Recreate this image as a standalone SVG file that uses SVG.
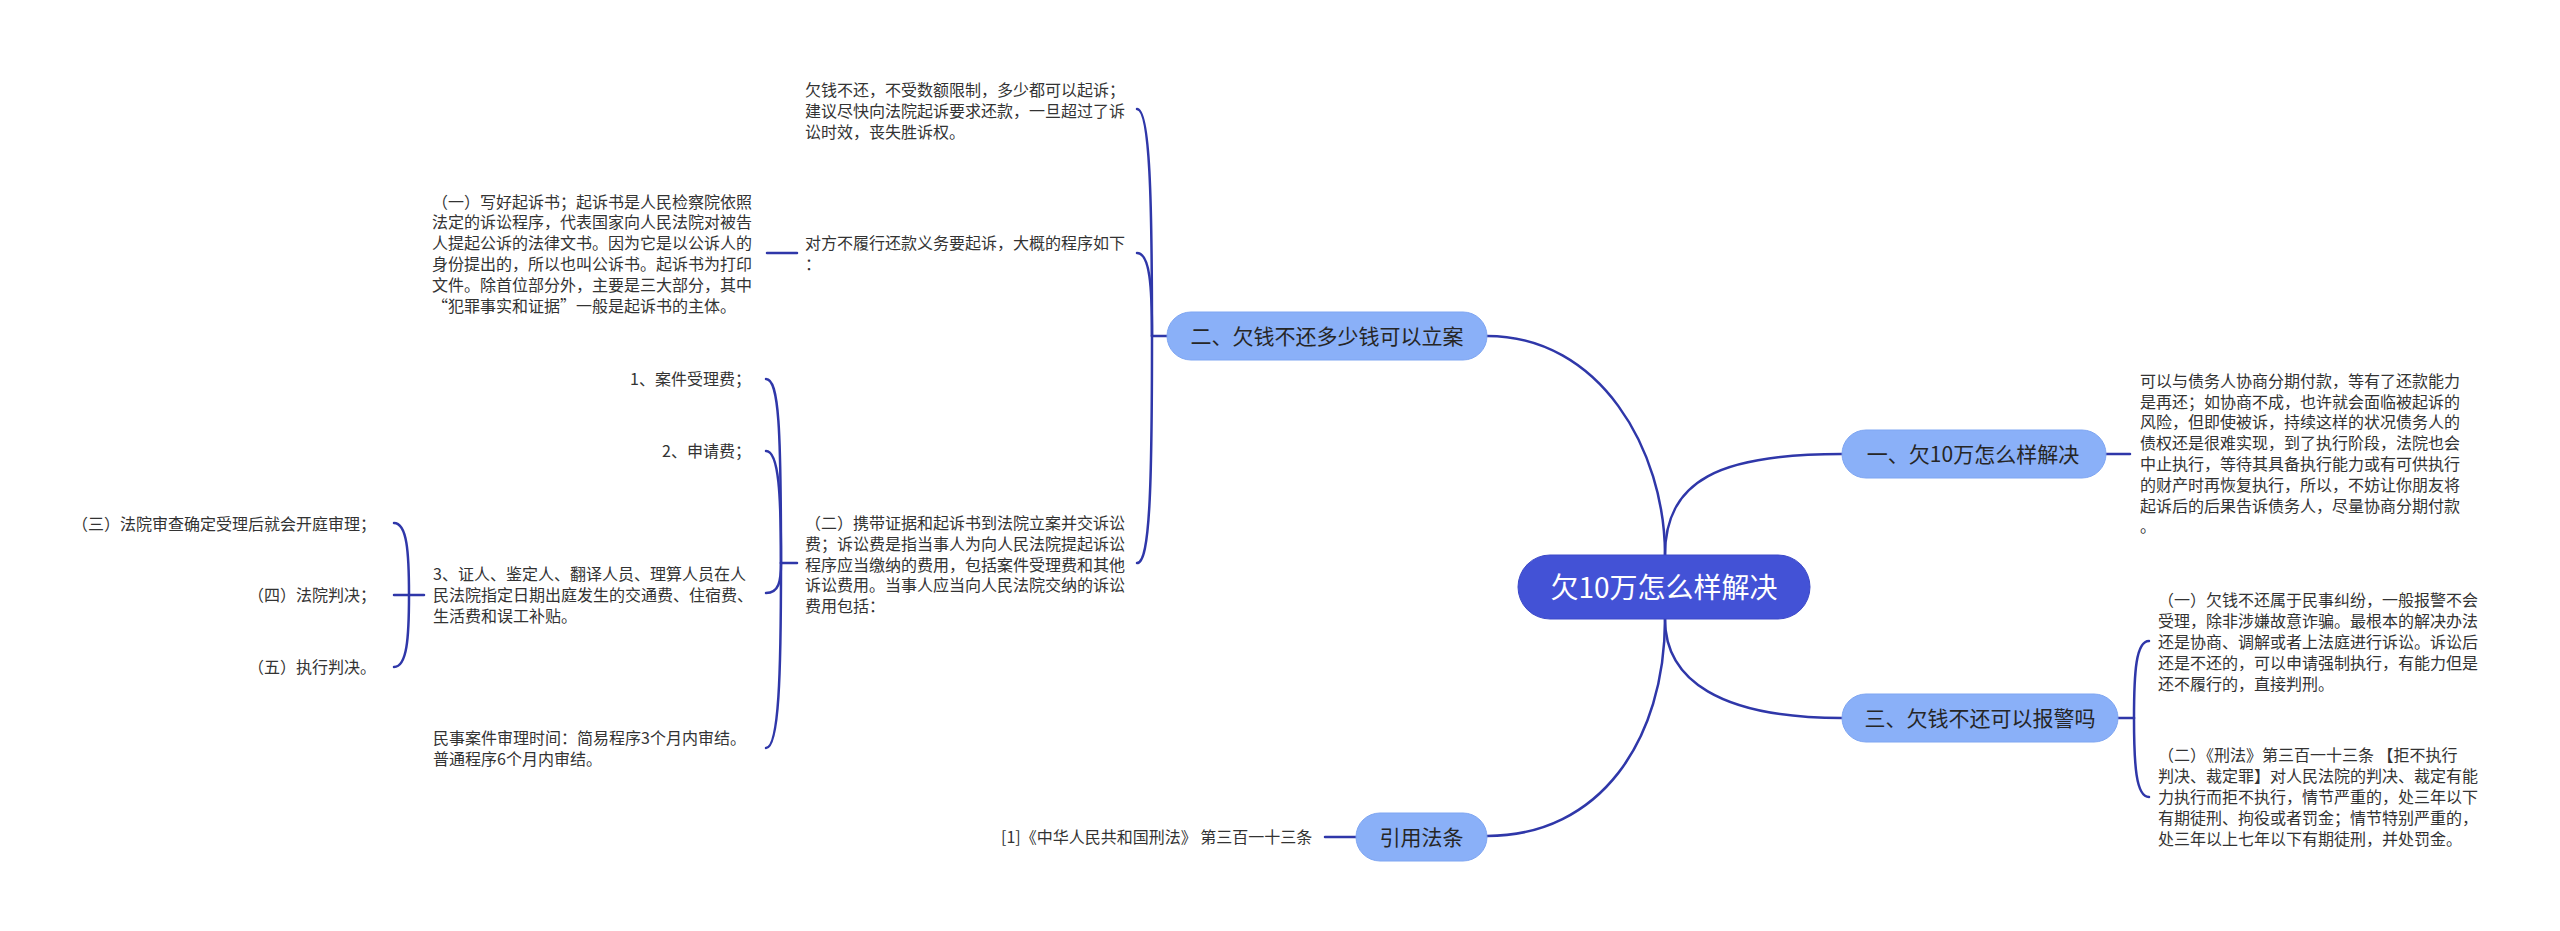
<svg xmlns="http://www.w3.org/2000/svg" width="2560" height="931" viewBox="0 0 2560 931">
<style>
.bg{fill:#ffffff}
.conn path{fill:none;stroke:#2f37a9;stroke-width:2.5;stroke-linecap:round}
.leaf text{font-family:"Noto Sans CJK SC","Liberation Sans",sans-serif;font-size:16px;fill:#333333}
.leaf text.r{text-anchor:end}
.branch rect{fill:#8ab0f8;stroke:#7fa6f2;stroke-width:1}
.branch text{font-family:"Noto Sans CJK SC","Liberation Sans",sans-serif;font-size:21px;fill:#262626;text-anchor:middle}
.root rect{fill:#4352d6;stroke:#3c49c8;stroke-width:1}
.root text{font-family:"Noto Sans CJK SC","Liberation Sans",sans-serif;font-size:28px;fill:#ffffff;text-anchor:middle}
</style>
<rect class="bg" x="0" y="0" width="2560" height="931"/>
<g class="conn" id="connectors">
<path d="M1665,555 C1665,450 1600,336 1487,336"/>
<path d="M1665,555 C1665,480 1720,454 1842,454"/>
<path d="M1665,619 C1665,680 1720,718 1842,718"/>
<path d="M1665,619 C1665,740 1600,836 1487,836"/>
<path d="M1167,336 L1152,336"/>
<path d="M1152,336 C1152,200 1150,109 1137,109"/>
<path d="M1152,336 C1152,287 1150,253 1137,253"/>
<path d="M1152,336 C1152,486 1150,563 1137,563"/>
<path d="M797,253 L767,253"/>
<path d="M797,563 L781,563"/>
<path d="M781,563 C781,429 779,379 766,379"/>
<path d="M781,563 C781,496 779,451 766,451"/>
<path d="M781,563 C781,581 779,593 766,593"/>
<path d="M781,563 C781,674 779,748 766,748"/>
<path d="M424,595 L409,595"/>
<path d="M409,595 C409,552 407,523 394,523"/>
<path d="M409,595 L394,595"/>
<path d="M409,595 C409,638 407,667 394,667"/>
<path d="M2118,718 L2134,718"/>
<path d="M2134,718 C2134,672 2136,641 2149,641"/>
<path d="M2134,718 C2134,765 2136,797 2149,797"/>
<path d="M2106,454 L2130,454"/>
<path d="M1356,837 L1325,837"/>
</g>
<g class="root" id="node-root">
<rect x="1518" y="555" width="292" height="64" rx="32"/>
<text x="1664" y="598">欠10万怎么样解决</text>
</g>
<g class="branch" id="node-b2">
<rect x="1167" y="312" width="320" height="48" rx="24"/>
<text x="1327" y="344">二、欠钱不还多少钱可以立案</text>
</g>
<g class="branch" id="node-b1">
<rect x="1842" y="430" width="264" height="48" rx="24"/>
<text x="1973" y="462">一、欠10万怎么样解决</text>
</g>
<g class="branch" id="node-b3">
<rect x="1842" y="694" width="276" height="48" rx="24"/>
<text x="1980" y="726">三、欠钱不还可以报警吗</text>
</g>
<g class="branch" id="node-ref">
<rect x="1356" y="813" width="131" height="48" rx="24"/>
<text x="1421.5" y="845">引用法条</text>
</g>
<g class="leaf" id="leaf-a">
<text x="805" y="96">欠钱不还，不受数额限制，多少都可以起诉；</text>
<text x="805" y="117">建议尽快向法院起诉要求还款，一旦超过了诉</text>
<text x="805" y="138">讼时效，丧失胜诉权。</text>
</g>
<g class="leaf" id="leaf-b">
<text x="805" y="249">对方不履行还款义务要起诉，大概的程序如下</text>
<text x="805" y="270">：</text>
</g>
<g class="leaf" id="leaf-c">
<text x="432" y="207.5">（一）写好起诉书；起诉书是人民检察院依照</text>
<text x="432" y="228.3">法定的诉讼程序，代表国家向人民法院对被告</text>
<text x="432" y="249.1">人提起公诉的法律文书。因为它是以公诉人的</text>
<text x="432" y="269.9">身份提出的，所以也叫公诉书。起诉书为打印</text>
<text x="432" y="290.7">文件。除首位部分外，主要是三大部分，其中</text>
<text x="432" y="311.5">“犯罪事实和证据”一般是起诉书的主体。</text>
</g>
<g class="leaf" id="leaf-d">
<text x="805" y="529">（二）携带证据和起诉书到法院立案并交诉讼</text>
<text x="805" y="549.8">费；诉讼费是指当事人为向人民法院提起诉讼</text>
<text x="805" y="570.6">程序应当缴纳的费用，包括案件受理费和其他</text>
<text x="805" y="591.4">诉讼费用。当事人应当向人民法院交纳的诉讼</text>
<text x="805" y="612.2">费用包括：</text>
</g>
<g class="leaf" id="leaf-d1">
<text class="r" x="751" y="385">1、案件受理费；</text>
</g>
<g class="leaf" id="leaf-d2">
<text class="r" x="751" y="457">2、申请费；</text>
</g>
<g class="leaf" id="leaf-d3">
<text x="433" y="580">3、证人、鉴定人、翻译人员、理算人员在人</text>
<text x="433" y="601">民法院指定日期出庭发生的交通费、住宿费、</text>
<text x="433" y="622">生活费和误工补贴。</text>
</g>
<g class="leaf" id="leaf-d4">
<text x="433" y="744">民事案件审理时间：简易程序3个月内审结。</text>
<text x="433" y="765">普通程序6个月内审结。</text>
</g>
<g class="leaf" id="leaf-s3">
<text class="r" x="376" y="530">（三）法院审查确定受理后就会开庭审理；</text>
</g>
<g class="leaf" id="leaf-s4">
<text class="r" x="376" y="601">（四）法院判决；</text>
</g>
<g class="leaf" id="leaf-s5">
<text class="r" x="376" y="673">（五）执行判决。</text>
</g>
<g class="leaf" id="leaf-e">
<text x="2140" y="386.7">可以与债务人协商分期付款，等有了还款能力</text>
<text x="2140" y="407.5">是再还；如协商不成，也许就会面临被起诉的</text>
<text x="2140" y="428.3">风险，但即使被诉，持续这样的状况债务人的</text>
<text x="2140" y="449.1">债权还是很难实现，到了执行阶段，法院也会</text>
<text x="2140" y="469.9">中止执行，等待其具备执行能力或有可供执行</text>
<text x="2140" y="490.7">的财产时再恢复执行，所以，不妨让你朋友将</text>
<text x="2140" y="511.5">起诉后的后果告诉债务人，尽量协商分期付款</text>
<text x="2140" y="532.3">。</text>
</g>
<g class="leaf" id="leaf-f">
<text x="2158" y="606.4">（一）欠钱不还属于民事纠纷，一般报警不会</text>
<text x="2158" y="627.2">受理，除非涉嫌故意诈骗。最根本的解决办法</text>
<text x="2158" y="648">还是协商、调解或者上法庭进行诉讼。诉讼后</text>
<text x="2158" y="668.8">还是不还的，可以申请强制执行，有能力但是</text>
<text x="2158" y="689.6">还不履行的，直接判刑。</text>
</g>
<g class="leaf" id="leaf-g">
<text x="2158" y="761.4">（二）《刑法》第三百一十三条 【拒不执行</text>
<text x="2158" y="782.2">判决、裁定罪】对人民法院的判决、裁定有能</text>
<text x="2158" y="803">力执行而拒不执行，情节严重的，处三年以下</text>
<text x="2158" y="823.8">有期徒刑、拘役或者罚金；情节特别严重的，</text>
<text x="2158" y="844.6">处三年以上七年以下有期徒刑，并处罚金。</text>
</g>
<g class="leaf" id="leaf-ref">
<text x="1001" y="843">[1]《中华人民共和国刑法》 第三百一十三条</text>
</g>
</svg>
